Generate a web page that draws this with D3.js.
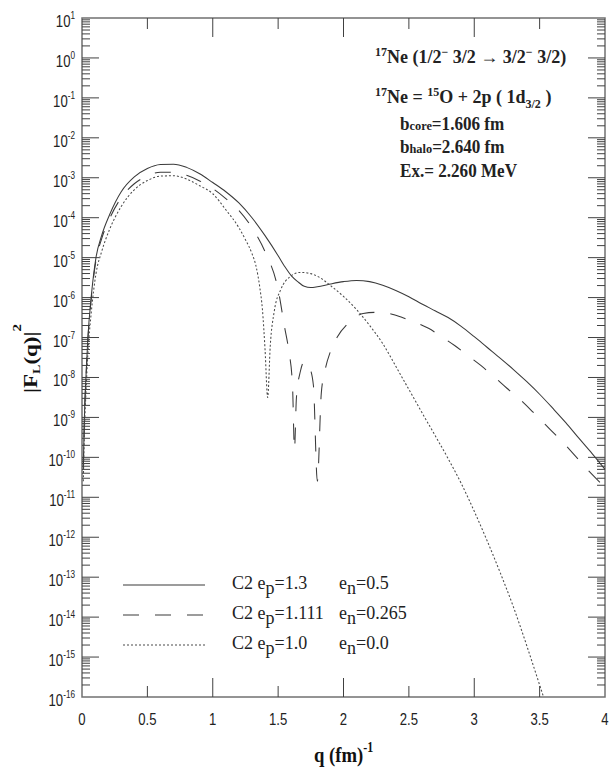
<!DOCTYPE html>
<html>
<head>
<meta charset="utf-8">
<script src="https://cdn.jsdelivr.net/npm/d3@7"></script>
<style>body{margin:0;background:#fff}</style>
</head>
<body>
<svg id="chart" width="610" height="769"></svg>
<script>
// |F_L(q)|^2
const qSolid = [0.01,0.02,0.03,0.045,0.07,0.107,0.15,0.21,0.3,0.4,0.5,0.6,0.7,0.8,0.9,1.0,1.1,1.2,1.3,1.4,1.5,1.55,1.6,1.65,1.7,1.75,1.8,1.9,2.0,2.1,2.2,2.3,2.4,2.5,2.6,2.7,2.8,2.9,3.0,3.1,3.2,3.3,3.4,3.5,3.6,3.7,3.8,3.9,4.0];
const fSolid = [6.3e-11,1.58e-9,1e-8,1e-7,1e-6,1e-5,3.55e-5,1.17e-4,4.47e-4,1.05e-3,1.7e-3,2.14e-3,2.19e-3,1.82e-3,1.26e-3,7.59e-4,4.47e-4,2.34e-4,1e-4,3.55e-5,1.12e-5,6.03e-6,3.55e-6,2.51e-6,1.91e-6,1.78e-6,1.86e-6,2.19e-6,2.51e-6,2.69e-6,2.51e-6,2.04e-6,1.51e-6,1.05e-6,6.92e-7,4.68e-7,3.16e-7,1.91e-7,1.05e-7,5.62e-8,3.02e-8,1.58e-8,7.94e-9,3.8e-9,1.7e-9,7.41e-10,3.02e-10,1.26e-10,5.01e-11];

const qDash = [0.01,0.02,0.03,0.045,0.07,0.107,0.15,0.21,0.3,0.4,0.5,0.6,0.7,0.8,0.9,1.0,1.1,1.2,1.3,1.4,1.5,1.55,1.58,1.61,1.625,1.64,1.67,1.7,1.74,1.77,1.8,1.83,1.86,1.9,1.95,2.05,2.15,2.25,2.35,2.45,2.55,2.65,2.75,2.85,2.95,3.05,3.15,3.25,3.35,3.45,3.55,3.65,3.75,3.85,4.0];
const fDash = [5.01e-11,1.41e-9,8.91e-9,8.91e-8,8.91e-7,8.51e-6,2.95e-5,9.33e-5,3.16e-4,7.08e-4,1.12e-3,1.38e-3,1.38e-3,1.15e-3,8.32e-4,5.37e-4,3.02e-4,1.51e-4,5.62e-5,1.41e-5,1.58e-6,1.78e-7,5.01e-8,6.31e-9,1.58e-10,3.16e-9,1.41e-8,2.51e-8,1.78e-8,6.31e-9,2.51e-11,3.98e-9,1.58e-8,4.47e-8,1e-7,2.51e-7,3.98e-7,4.27e-7,3.98e-7,3.16e-7,2.4e-7,1.7e-7,1.05e-7,6.31e-8,3.55e-8,2e-8,1.05e-8,5.37e-9,2.82e-9,1.35e-9,6.31e-10,2.95e-10,1.32e-10,5.62e-11,1.78e-11];

const qDot = [0.01,0.02,0.03,0.045,0.07,0.107,0.15,0.21,0.3,0.4,0.5,0.6,0.7,0.8,0.9,1.0,1.1,1.2,1.25,1.3,1.33,1.36,1.38,1.4,1.42,1.44,1.47,1.52,1.59,1.67,1.75,1.82,1.9,2.0,2.1,2.2,2.3,2.4,2.5,2.6,2.7,2.8,2.9,3.0,3.1,3.2,3.3,3.4,3.5,3.53];
const fDot = [2.51e-11,6.31e-10,3.98e-9,3.98e-8,3.98e-7,3.98e-6,1.41e-5,5.01e-5,1.91e-4,5.01e-4,8.51e-4,1.1e-3,1.12e-3,9.33e-4,6.31e-4,3.98e-4,1.58e-4,5.62e-5,2.82e-5,1.26e-5,6.31e-6,1.78e-6,5.01e-7,5.01e-8,3.16e-9,6.31e-8,4.47e-7,1.58e-6,3.31e-6,4.27e-6,3.98e-6,3.16e-6,2e-6,1.07e-6,5.01e-7,2e-7,7.08e-8,1.91e-8,5.01e-9,1.32e-9,3.55e-10,9.33e-11,2.24e-11,4.47e-12,7.94e-13,1.26e-13,1.78e-14,2e-15,2e-16,1e-16];

const legendEp = ['1.3', '1.111', '1.0'];
const legendEn = ['0.5', '0.265', '0.0'];

const xTickValues = [0, 0.5, 1, 1.5, 2, 2.5, 3, 3.5, 4];
const xTickLabels = ['0', '0.5', '1', '1.5', '2', '2.5', '3', '3.5', '4'];
const yExponents = [1, 0, -1, -2, -3, -4, -5, -6, -7, -8, -9, -10, -11, -12, -13, -14, -15, -16];
const minorMult = [2, 3, 4, 5, 6, 7, 8, 9];

const sansFont = 'Liberation Sans, Arial, sans-serif';
const serifFont = 'Liberation Serif, Times New Roman, serif';

const svg = d3.select('#chart');
const x = d3.scaleLinear().domain([0, 4]).range([82, 605]);
const y = d3.scaleLog().domain([1e-16, 10]).range([697, 18]);

// rich text with super/subscripts
function richText(parent, px, py, sx, base, segs, attrs) {
  const g = parent.append('g').attr('transform', `translate(${px},${py}) scale(${sx},1)`);
  const t = g.append('text').attr('font-size', base);
  Object.entries(attrs || {}).forEach(([k, v]) => t.attr(k, v));
  let cur = 0;
  segs.forEach(s => {
    const shift = s.shift || 0;
    t.append('tspan')
      .attr('dy', shift - cur)
      .attr('font-size', s.size || base)
      .text(s.t);
    cur = shift;
  });
  return g;
}

// frame
svg.append('rect')
  .attr('x', x(0)).attr('y', y(10))
  .attr('width', x(4) - x(0)).attr('height', y(1e-16) - y(10))
  .attr('fill', 'none').attr('stroke', '#707070').attr('stroke-width', 1.5);

const ticks = svg.append('g').attr('stroke', '#404040').attr('stroke-width', 1);

// x ticks (bottom + top), inward
xTickValues.filter(v => v > 0 && v < 4).forEach(v => {
  const len = Number.isInteger(v) ? 19 : 11;
  ticks.append('line').attr('x1', x(v)).attr('x2', x(v)).attr('y1', y(1e-16)).attr('y2', y(1e-16) - len);
  ticks.append('line').attr('x1', x(v)).attr('x2', x(v)).attr('y1', y(10)).attr('y2', y(10) + len);
});

// y ticks (left + right), majors and minors
yExponents.filter(e => e < 1 && e > -16).forEach(e => {
  const v = Math.pow(10, e);
  ticks.append('line').attr('x1', x(0)).attr('x2', x(0) + 17).attr('y1', y(v)).attr('y2', y(v));
  ticks.append('line').attr('x1', x(4)).attr('x2', x(4) - 17).attr('y1', y(v)).attr('y2', y(v));
});
yExponents.filter(e => e < 1).forEach(e => {
  minorMult.forEach(m => {
    const v = m * Math.pow(10, e);
    ticks.append('line').attr('x1', x(0)).attr('x2', x(0) + 8).attr('y1', y(v)).attr('y2', y(v));
    ticks.append('line').attr('x1', x(4)).attr('x2', x(4) - 8).attr('y1', y(v)).attr('y2', y(v));
  });
});

// y tick labels
yExponents.forEach(e => {
  richText(svg, 75, y(Math.pow(10, e)) + 9, 0.82, 16,
    [{ t: '10' }, { t: String(e), size: 10, shift: -8 }],
    { 'text-anchor': 'end', 'font-family': sansFont, fill: '#222' });
});

// x tick labels
xTickValues.forEach((v, i) => {
  richText(svg, x(v), 725, 0.82, 16, [{ t: xTickLabels[i] }],
    { 'text-anchor': 'middle', 'font-family': sansFont, fill: '#222' });
});

// axis titles
richText(svg, x(2), 762, 0.85, 22,
  [{ t: 'q (fm)' }, { t: '-1', size: 14, shift: -10 }],
  { 'text-anchor': 'middle', 'font-family': serifFont, 'font-weight': 'bold', fill: '#111' });

const yt = svg.append('g').attr('transform', 'translate(37,393) scale(0.8,1) rotate(-90)');
const ytt = yt.append('text').attr('font-family', serifFont).attr('font-weight', 'bold')
  .attr('font-size', 23).attr('fill', '#111');
ytt.append('tspan').text('|F');
ytt.append('tspan').attr('dy', 4).attr('font-size', 14).text('L');
ytt.append('tspan').attr('dy', -4).text('(q)|');
ytt.append('tspan').attr('dy', -20).attr('font-size', 15).text('2');

// curves
svg.append('defs').append('clipPath').attr('id', 'plotClip')
  .append('rect').attr('x', x(0)).attr('y', y(10))
  .attr('width', x(4) - x(0)).attr('height', y(1e-16) - y(10));

const line = d3.line()
  .x(d => x(d[0]))
  .y(d => y(d[1]))
  .curve(d3.curveMonotoneX);

const series = [
  { q: qSolid, f: fSolid, dash: null, color: '#3a3a3a' },
  { q: qDash, f: fDash, dash: '16,16', color: '#3a3a3a' },
  { q: qDot, f: fDot, dash: '2,2', color: '#4a4a4a' }
];

const curves = svg.append('g').attr('clip-path', 'url(#plotClip)').attr('fill', 'none');
series.forEach(s => {
  curves.append('path')
    .datum(s.q.map((q, i) => [q, s.f[i]]))
    .attr('d', line)
    .attr('stroke', s.color)
    .attr('stroke-width', 1.05)
    .attr('stroke-dasharray', s.dash);
});

// legend
series.forEach((s, i) => {
  const ly = 585 + i * 30;
  svg.append('line').attr('x1', 123).attr('x2', 205).attr('y1', ly).attr('y2', ly)
    .attr('stroke', s.color).attr('stroke-width', 1.05).attr('stroke-dasharray', s.dash);
  richText(svg, 232, ly + 4, 1, 18,
    [{ t: 'C2  e' }, { t: 'p', shift: 5 }, { t: '=' + legendEp[i] }],
    { 'font-family': serifFont, fill: '#222' });
  richText(svg, 339, ly + 4, 1, 18,
    [{ t: 'e' }, { t: 'n', shift: 5 }, { t: '=' + legendEn[i] }],
    { 'font-family': serifFont, fill: '#222' });
});

// annotation
const ann = { 'font-family': serifFont, 'font-weight': 'bold', fill: '#222' };
richText(svg, 375, 63, 1, 18,
  [{ t: '17', size: 12, shift: -7 }, { t: 'Ne (1/2' }, { t: '−', size: 12, shift: -7 },
   { t: ' 3/2  →  3/2' }, { t: '−', size: 12, shift: -7 }, { t: ' 3/2)' }], ann);
richText(svg, 375, 103, 1, 18,
  [{ t: '17', size: 12, shift: -7 }, { t: 'Ne = ' }, { t: '15', size: 12, shift: -7 },
   { t: 'O + 2p ( 1d' }, { t: '3/2', size: 12, shift: 5 }, { t: ' )' }], ann);
richText(svg, 400, 130, 0.95, 18, [{ t: 'b' }, { t: 'core', size: 13 }, { t: '=1.606 fm' }], ann);
richText(svg, 400, 153, 0.95, 18, [{ t: 'b' }, { t: 'halo', size: 13 }, { t: '=2.640 fm' }], ann);
richText(svg, 400, 177, 0.95, 18, [{ t: 'Ex.= 2.260 MeV' }], ann);
</script>
</body>
</html>
